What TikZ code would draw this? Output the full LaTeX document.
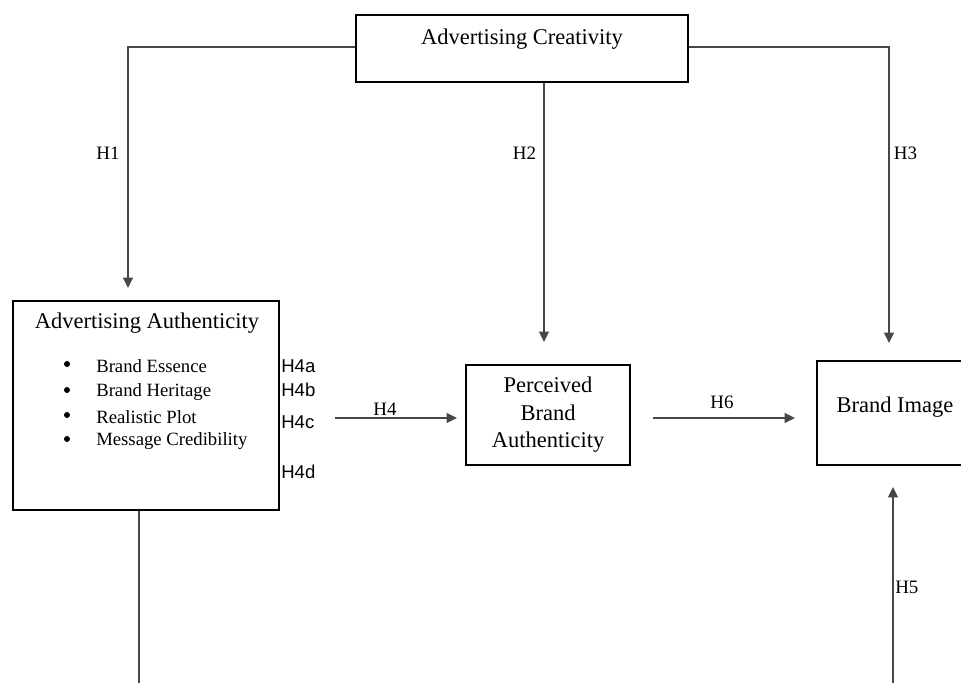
\documentclass[tikz,border=0pt]{standalone}
\usepackage{fontspec}
\setmainfont{Liberation Serif}
\newfontfamily\hsans{Liberation Sans}
\usetikzlibrary{arrows.meta}
\tikzset{
  boxnode/.style={draw=black,line width=1.5pt,rectangle,inner sep=0pt},
  conn/.style={draw=black!72,line width=0.9pt},
  arr/.style={conn,-{Triangle[length=0.26cm,width=0.25cm]}},
  bigtext/.style={font=\fontsize{16}{19.6}\selectfont,inner sep=0pt,align=center},
  itemtext/.style={font=\fontsize{13.3}{16}\selectfont,inner sep=0pt,anchor=west},
  bulletdot/.style={circle,fill=black,inner sep=0pt,minimum size=0.15cm},
  hlab/.style={font=\fontsize{13.5}{16}\selectfont,inner sep=0pt},
  hsanslab/.style={font=\hsans\fontsize{13.2}{16}\selectfont,inner sep=0pt,anchor=west}
}
\begin{document}
\begin{tikzpicture}[x=0.025cm,y=-0.025cm]
\useasboundingbox (0,0) rectangle (961,683);
\clip (0,0) rectangle (961,683);
\fill[white] (0,0) rectangle (961,683);
% boxes
\node[boxnode,minimum width=8.3cm,minimum height=1.675cm] (ac) at (522,48.5) {};
\node[bigtext] (actext) at (522,39) {Advertising Creativity};
\node[boxnode,minimum width=6.65cm,minimum height=5.225cm] (aa) at (146,405.5) {};
\node[bigtext] (aatitle) at (147,323) {Advertising Authenticity};
\node[boxnode,minimum width=4.1cm,minimum height=2.5cm,bigtext] (pba) at (548,415) {Perceived\\Brand\\Authenticity};
\node[boxnode,minimum width=3.9cm,minimum height=2.6cm] (bi) at (895,413) {};
\node[bigtext] (bitext) at (895,407) {Brand Image};
% bullet items
\foreach \i/\yy/\t in {1/366/Brand Essence,2/392/Brand Heritage,3/417/Realistic Plot,4/441/Message Credibility}{
  \node[bulletdot] (bul\i) at (67,\yy-2) {};
  \node[itemtext] (item\i) at (96,\yy) {\t};
}
% H4 sub-labels
\node[hsanslab] (h4a) at (281,366) {H4a};
\node[hsanslab] (h4b) at (281,390) {H4b};
\node[hsanslab] (h4c) at (281,422) {H4c};
\node[hsanslab] (h4d) at (281,472) {H4d};
% coordinates
\coordinate (h1end) at (128,288);
\coordinate (h2end) at (544,342);
\coordinate (h3end) at (889,343);
\coordinate (h4start) at (335,418);
\coordinate (h4end) at (457,418);
\coordinate (h6start) at (653,418);
\coordinate (h6end) at (795,418);
\coordinate (blend) at (139,690);
\coordinate (h5start) at (893,690);
\coordinate (h5end) at (893,487);
% connectors
\draw[arr] (ac.west |- 0,47) -| (h1end);
\draw[arr] (ac.east |- 0,47) -| (h3end);
\draw[arr] (ac.south -| h2end) -- (h2end);
\draw[arr] (h4start) -- (h4end);
\draw[arr] (h6start) -- (h6end);
\draw[conn] (aa.south -| blend) -- (blend);
\draw[arr] (h5start) -- (h5end);
% labels
\node[hlab] (lh1) at (108,153) {H1};
\node[hlab] (lh2) at (524.5,153) {H2};
\node[hlab] (lh3) at (905.5,153) {H3};
\node[hlab] (lh4) at (385,409) {H4};
\node[hlab] (lh6) at (722,402) {H6};
\node[hlab,anchor=west] (lh5) at (895,587) {H5};
\end{tikzpicture}
\end{document}
